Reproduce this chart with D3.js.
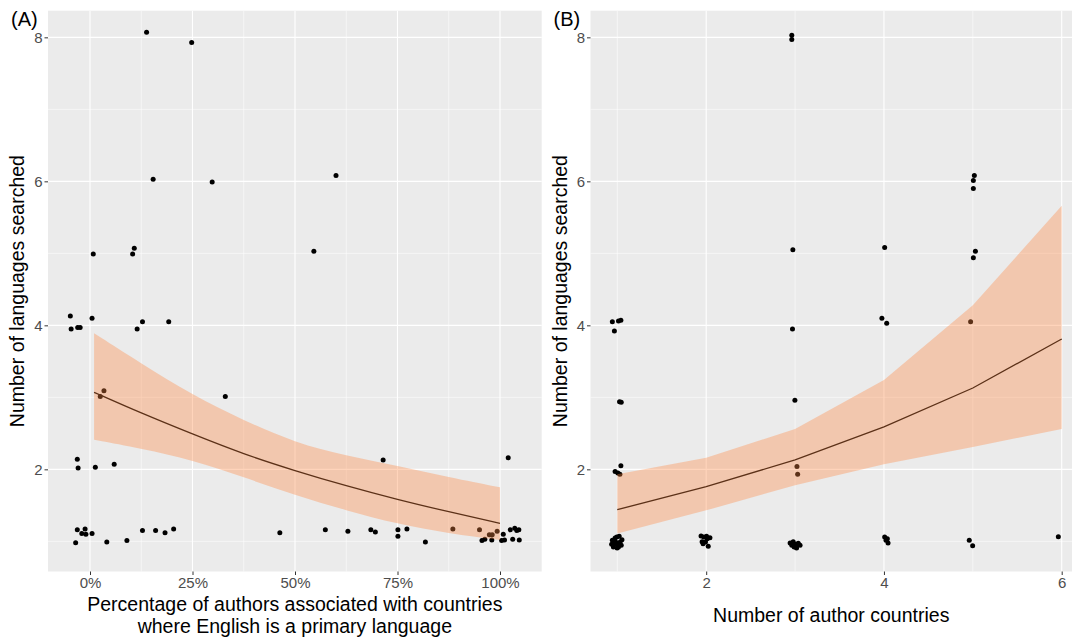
<!DOCTYPE html>
<html>
<head>
<meta charset="utf-8">
<script src="https://cdn.jsdelivr.net/npm/d3@7"></script>
<style>
  body { margin: 0; background: #fff; }
  text { font-family: "Liberation Sans", Arial, sans-serif; }
</style>
</head>
<body>
<script>
// Panel A: jittered points (percent English-speaking authors, languages searched)
const pctEnglish = [13.8, 24.8, 15.4, 29.8, 60.0, 0.8, 10.4, 10.8, 54.6,
  -4.8, -4.6, -3.0, -2.4, 0.5, 11.5, 12.8, 19.2,
  2.5, 3.4, 33.0,
  -3.1, -2.9, 1.3, 5.9, 71.5, 102.0,
  -3.1, -2.0, -1.2, -1.0, 0.5, -3.5, 4.1, 9.0, 12.8, 16.0, 18.3, 20.4, 46.3, 57.4,
  62.9, 68.5, 69.6, 75.1, 75.1, 77.3, 81.8, 88.5, 95.0, 95.6, 96.3, 97.4, 98.1, 98.0,
  99.3, 100.8, 100.4, 101.1, 102.5, 103.1, 103.6, 104.1, 104.6, 104.7];
const langsA = [8.07, 7.93, 6.03, 5.99, 6.08, 4.99, 4.99, 5.07, 5.03,
  4.13, 3.95, 3.97, 3.97, 4.10, 3.95, 4.05, 4.05,
  3.01, 3.09, 3.01,
  2.14, 2.02, 2.03, 2.07, 2.13, 2.16,
  1.16, 1.11, 1.17, 1.10, 1.11, 0.98, 0.99, 1.01, 1.15, 1.15, 1.12, 1.17, 1.12, 1.16,
  1.14, 1.16, 1.13, 1.16, 1.07, 1.17, 0.99, 1.17, 1.16, 1.01, 1.03, 1.09, 1.09, 1.02,
  1.14, 1.10, 1.01, 1.02, 1.16, 1.03, 1.18, 1.15, 1.16, 1.02];

// Panel A: fitted curve and confidence band
const fitAx = [1, 12.5, 25, 37.5, 50, 62.5, 75, 87.5, 100];
const fitAy = [3.07, 2.78, 2.49, 2.21, 1.98, 1.77, 1.58, 1.41, 1.25];
const fitAlo = [2.41, 2.29, 2.13, 1.89, 1.64, 1.43, 1.24, 1.11, 1.02];
const fitAhi = [3.89, 3.47, 3.03, 2.68, 2.37, 2.19, 2.05, 1.89, 1.75];

// Panel B: jittered points (number of author countries, languages searched)
const countriesB = [0.944, 0.967, 0.994, 1.013, 1.044, 0.956, 0.982, 1.021, 1.052, 0.936, 1.006, 1.032, 0.975, 0.998,
  1.942, 1.973, 2.011, 2.042, 1.954, 1.992, 2.023, 1.965, 2.004,
  2.944, 2.979, 3.010, 3.036, 2.990, 3.017, 3.056, 2.963,
  4.008, 4.038, 4.046, 4.023, 4.960, 4.998, 5.962,
  0.944, 0.967, 1.013, 1.040, 1.025, 1.044, 1.040, 0.975, 1.006, 1.029,
  2.971, 2.998, 3.021, 3.029, 3.977, 4.031, 4.975,
  2.963, 2.963, 2.975, 4.008, 5.017, 5.006, 5.006, 5.029, 5.006];
const langsB = [1.014, 0.968, 1.06, 0.921, 0.944, 0.921, 0.991, 1.069, 1.023, 0.958, 0.954, 0.991, 1.046, 0.907,
  1.074, 1.060, 1.037, 1.051, 0.995, 0.991, 0.931, 0.968, 1.069,
  0.977, 0.995, 0.958, 0.972, 0.921, 0.907, 0.944, 0.944,
  1.060, 1.037, 0.977, 1.014, 1.014, 0.940, 1.065,
  4.05, 3.92, 4.06, 4.07, 2.94, 2.93, 2.05, 1.97, 1.95, 1.93,
  3.95, 2.96, 2.04, 1.93, 4.10, 4.03, 4.05,
  8.03, 7.97, 5.05, 5.08, 6.08, 6.01, 5.90, 5.03, 4.94];

// Panel B: fitted values and band at each country count
const fitBx = [1, 2, 3, 4, 5, 6];
const fitBy = [1.44, 1.76, 2.13, 2.59, 3.13, 3.81];
const fitBlo = [1.11, 1.43, 1.78, 2.07, 2.31, 2.56];
const fitBhi = [1.93, 2.16, 2.56, 3.24, 4.28, 5.66];

const yTicks = [2, 4, 6, 8];
const yMinor = [1, 3, 5, 7];
const xTicksA = [0, 25, 50, 75, 100];
const xMinorA = [12.5, 37.5, 62.5, 87.5];
const xTicksB = [2, 4, 6];
const xMinorB = [1, 3, 5];

const W = 1075, H = 638;
const plotTop = 10.7, plotBottom = 571.5;

const svg = d3.select("body").append("svg")
  .attr("width", W).attr("height", H);

const y = d3.scaleLinear().domain([0.581, 8.37]).range([plotBottom, plotTop]);

function panel(opts) {
  const { left, right, x, xTicks, xMinor, xFmt, px, py, fx, fy, flo, fhi, curve, label, title } = opts;
  const g = svg.append("g");

  g.append("rect").attr("x", left).attr("y", plotTop)
    .attr("width", right - left).attr("height", plotBottom - plotTop)
    .attr("fill", "#EBEBEB");

  // minor grid
  g.append("g").selectAll("line").data(yMinor).join("line")
    .attr("x1", left).attr("x2", right)
    .attr("y1", d => y(d)).attr("y2", d => y(d))
    .attr("stroke", "#fff").attr("stroke-width", 0.55);
  g.append("g").selectAll("line").data(xMinor).join("line")
    .attr("y1", plotTop).attr("y2", plotBottom)
    .attr("x1", d => x(d)).attr("x2", d => x(d))
    .attr("stroke", "#fff").attr("stroke-width", 0.55);
  // major grid
  g.append("g").selectAll("line").data(yTicks).join("line")
    .attr("x1", left).attr("x2", right)
    .attr("y1", d => y(d)).attr("y2", d => y(d))
    .attr("stroke", "#fff").attr("stroke-width", 1.1);
  g.append("g").selectAll("line").data(xTicks).join("line")
    .attr("y1", plotTop).attr("y2", plotBottom)
    .attr("x1", d => x(d)).attr("x2", d => x(d))
    .attr("stroke", "#fff").attr("stroke-width", 1.1);

  // points
  g.append("g").selectAll("circle").data(d3.range(px.length)).join("circle")
    .attr("cx", i => x(px[i])).attr("cy", i => y(py[i]))
    .attr("r", 2.5).attr("fill", "#000");

  // fitted line (under band)
  const idx = d3.range(fx.length);
  g.append("path").datum(idx)
    .attr("d", d3.line().x(i => x(fx[i])).y(i => y(fy[i])).curve(curve))
    .attr("fill", "none").attr("stroke", "#000").attr("stroke-width", 1.3);

  // confidence band
  g.append("path").datum(idx)
    .attr("d", d3.area().x(i => x(fx[i])).y0(i => y(flo[i])).y1(i => y(fhi[i])).curve(curve))
    .attr("fill", "#FF8742").attr("fill-opacity", 0.36);

  // y axis
  const ya = g.append("g").attr("transform", `translate(${left},0)`)
    .call(d3.axisLeft(y).tickValues(yTicks).tickSize(3.5).tickPadding(2));
  ya.select(".domain").remove();
  ya.selectAll("line").attr("stroke", "#333");
  ya.selectAll("text").attr("fill", "#4D4D4D").style("font-size", "15px")
    .style("font-family", "Liberation Sans, Arial, sans-serif");

  // x axis
  const xa = g.append("g").attr("transform", `translate(0,${plotBottom})`)
    .call(d3.axisBottom(x).tickValues(xTicks).tickFormat(xFmt).tickSize(3.5).tickPadding(2));
  xa.select(".domain").remove();
  xa.selectAll("line").attr("stroke", "#333");
  xa.selectAll("text").attr("fill", "#4D4D4D").style("font-size", "15px")
    .style("font-family", "Liberation Sans, Arial, sans-serif");

  // y title
  g.append("text")
    .attr("transform", `translate(${left - 24},${(plotTop + plotBottom) / 2}) rotate(-90)`)
    .attr("text-anchor", "middle").attr("font-size", 19.5).attr("fill", "#000")
    .text("Number of languages searched");

  // x title
  const cx = (left + right) / 2;
  title.forEach((t, k) => {
    g.append("text").attr("x", cx).attr("y", opts.titleY + k * 22)
      .attr("text-anchor", "middle").attr("font-size", 19.5).attr("fill", "#000")
      .text(t);
  });

  // panel tag
  g.append("text").attr("x", left - 37).attr("y", 26)
    .attr("font-size", 20).attr("fill", "#000").text(label);
}

panel({
  left: 48, right: 541.7,
  x: d3.scaleLinear().domain([0, 100]).range([90, 500]),
  xTicks: xTicksA, xMinor: xMinorA, xFmt: d => d + "%",
  px: pctEnglish, py: langsA,
  fx: fitAx, fy: fitAy, flo: fitAlo, fhi: fitAhi,
  curve: d3.curveBasis,
  label: "(A)",
  title: ["Percentage of authors associated with countries", "where English is a primary language"],
  titleY: 611
});

panel({
  left: 590.5, right: 1072,
  x: d3.scaleLinear().domain([2, 6]).range([706.2, 1061.7]),
  xTicks: xTicksB, xMinor: xMinorB, xFmt: d => d,
  px: countriesB, py: langsB,
  fx: fitBx, fy: fitBy, flo: fitBlo, fhi: fitBhi,
  curve: d3.curveLinear,
  label: "(B)",
  title: ["Number of author countries"],
  titleY: 622
});
</script>
</body>
</html>
